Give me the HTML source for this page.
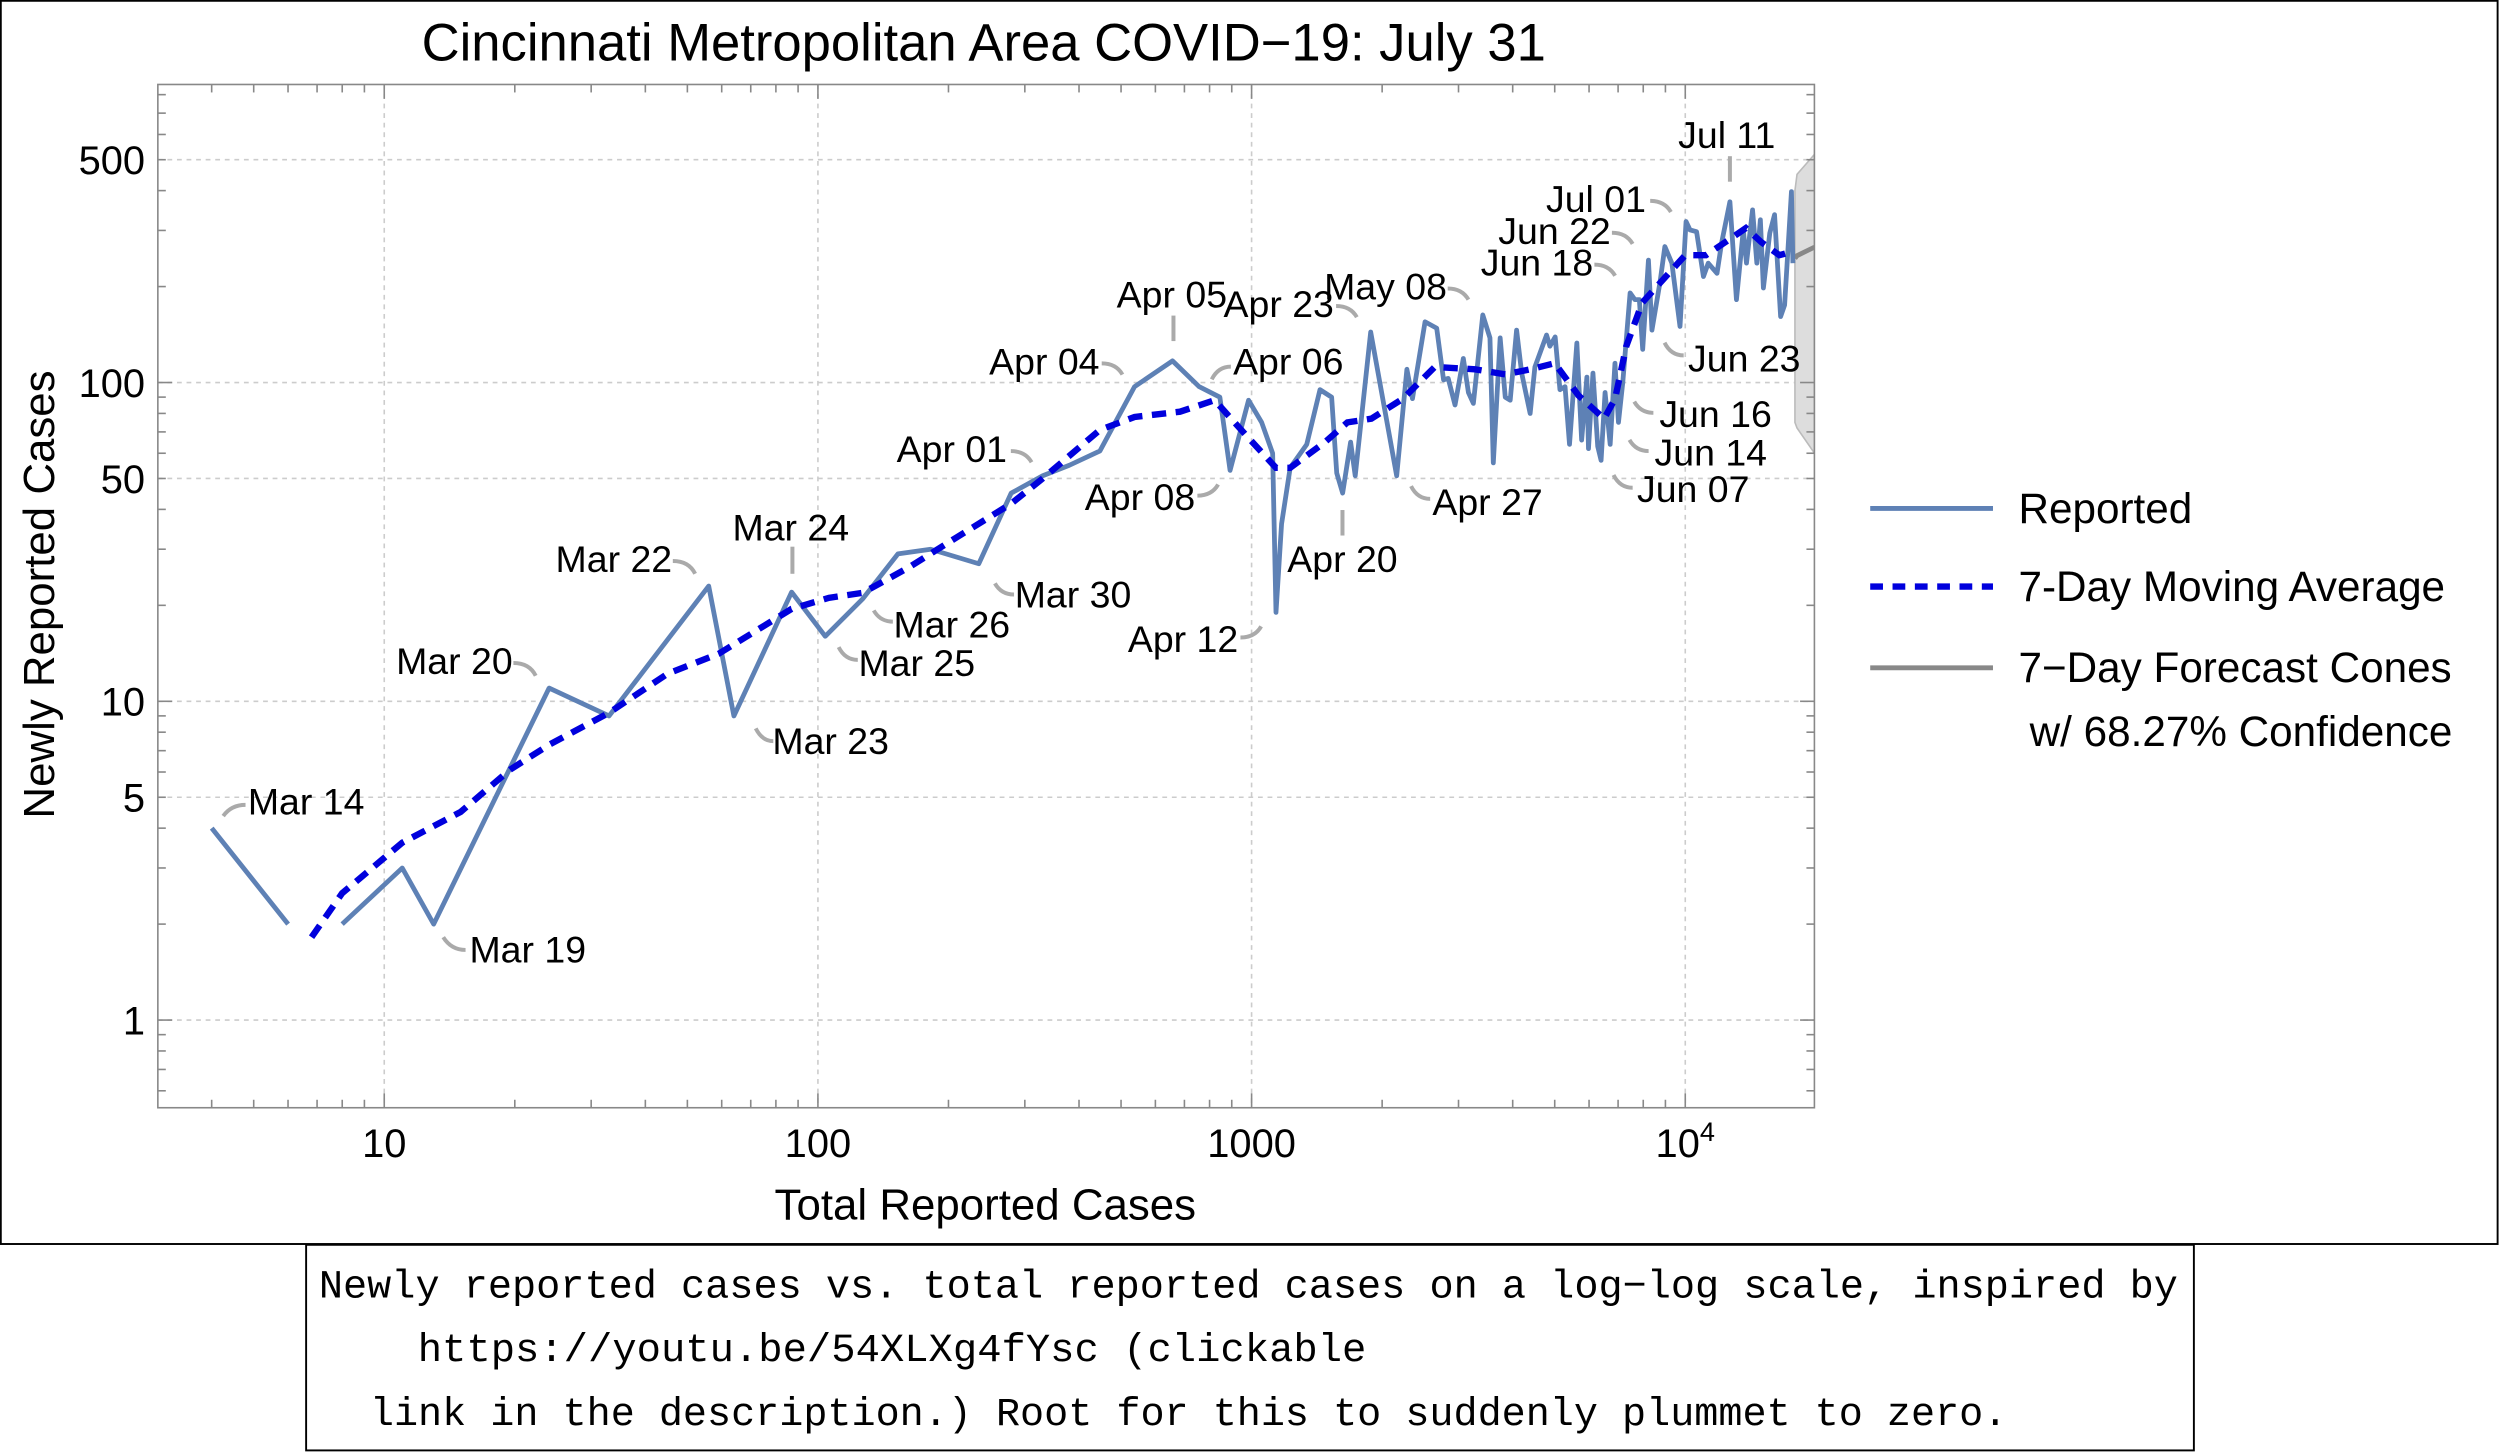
<!DOCTYPE html>
<html><head><meta charset="utf-8"><style>
html,body{margin:0;padding:0;background:#fff}
svg{display:block}
text{font-family:"Liberation Sans",sans-serif;fill:#000}
.lbl{font-size:23.5px}
.mono{font-family:"Liberation Mono",monospace;font-size:25px}
</style></head><body>
<svg id="chart" width="2500" height="1452" viewBox="0 0 1568 911" preserveAspectRatio="none" xmlns="http://www.w3.org/2000/svg">
<rect x="0.5" y="0.5" width="1566" height="780" fill="#fff" stroke="#000" stroke-width="1.2"/>
<text x="617" y="38" font-size="33" text-anchor="middle">Cincinnati Metropolitan Area COVID−19: July 31</text>
<defs><clipPath id="pc"><rect x="99" y="53" width="1039" height="642"/></clipPath></defs>
<g id="grid"></g>
<g id="cone" clip-path="url(#pc)"></g>
<g id="leaders" fill="none" stroke="#aaa" stroke-width="2.5"></g>
<g id="series" clip-path="url(#pc)"></g>
<rect x="99" y="53" width="1039" height="642" fill="none" stroke="#888" stroke-width="1"/>
<g id="ticks"></g>
<g id="labels"></g>
<text x="618" y="765" font-size="27.5" text-anchor="middle">Total Reported Cases</text>
<text x="0" y="0" font-size="27.5" text-anchor="middle" transform="translate(34,373) rotate(-90)">Newly Reported Cases</text>
<g>
<g><line x1="1173" y1="319" x2="1250" y2="319" stroke="#5E81B5" stroke-width="3"/><text x="1266" y="328" font-size="26.5">Reported</text></g>
<g><line x1="1173" y1="368" x2="1250" y2="368" stroke="#0000DD" stroke-width="4" stroke-dasharray="8,6"/><text x="1266" y="377" font-size="26.5">7-Day Moving Average</text></g>
<g><line x1="1173" y1="419" x2="1250" y2="419" stroke="#888" stroke-width="3"/><text x="1266" y="428" font-size="26.5">7−Day Forecast Cones</text><text x="1273" y="468" font-size="26.5">w/ 68.27% Confidence</text></g>
</g>
<rect x="192" y="781" width="1184" height="129" fill="#fff" stroke="#000" stroke-width="1.2"/>
<g>
<text class="mono" x="200" y="814" textLength="1166" lengthAdjust="spacingAndGlyphs">Newly reported cases vs. total reported cases on a log−log scale, inspired by</text>
<text class="mono" x="262" y="854" textLength="595" lengthAdjust="spacingAndGlyphs">https://youtu.be/54XLXg4fYsc (clickable</text>
<text class="mono" x="232" y="894" textLength="1027" lengthAdjust="spacingAndGlyphs">link in the description.) Root for this to suddenly plummet to zero.</text>
</g>
</svg>
<script>
const totals=[4,6,null,8,11,13,24,33,56,64,87,104,127,153,182,235,279,330,380,447,537,657,757,845,892,984,1055,1118,1138,1173,1227,1340,1438,1530,1572,1622,1692,1733,1882,2161,2280,2349,2512,2673,2770,2841,2945,3078,3162,3246,3412,3546,3609,3741,3845,3946,4085,4194,4389,4501,4788,4875,5012,5140,5284,5408,5623,5768,5929,5984,6124,6281,6397,6531,6714,6887,7015,7178,7464,7656,7834,7980,8222,8375,8750,8974,9311,9727,10046,10257,10617,11015,11298,11830,12134,12677,13122,13614,13836,14289,14622,14894,15136,15668,16069,16596,16943,17579,17701];
const newCases=[4,2,null,2,3,2,11,9,23,9,22,16,21,29,30,27,45,51,55,61,97,117,97,90,53,88,75,60,19,36,54,64,95,90,52,45,65,51,144,51,110,89,155,148,102,103,85,119,93,86,163,138,56,138,90,88,146,107,80,112,141,130,139,95,97,64,133,66,104,62,107,63,57,93,64,115,75,100,191,182,182,127,242,146,207,267,237,150,320,301,297,215,237,220,274,369,182,301,237,348,237,324,198,294,336,161,175,397,237];
const maTotals=[6.8,8,11,15,19.5,24,33,45,59,87,106,127,162,209,279,330,447,537,684,822,984,1138,1227,1476,1663,1888,2235,2646,3273,3845,4395,5000,5675,6500,6890,7310,7960,9270,10000,11160,12680,13800,15000,16480,17620];
const maValues=[1.82,2.5,3.6,4.5,6.1,7.3,9.2,12.2,14.1,19.5,21.1,21.9,26.3,32.7,41.7,50,71,78,81,88,67,54,54,65,75,77,89,112,110,106,110,115,91,77,89,130,178,224,251,251,282,305,275,251,257];
const coneTotals=[17900,18100,19860];
const coneCenter=[245,250,266];
const coneUpper=[400,450,520];
const coneLower=[75,72,60];
const xTicks=[10,100,1000,10000];
const xTickLabels=["10","100","1000","10"];
const yTicks=[1,5,10,50,100,500];
const yTickLabels=["1","5","10","50","100","500"];
const X=v=>241+272*(Math.log10(v)-1);
const Y=v=>640-200*Math.log10(v);
const NS="http://www.w3.org/2000/svg";
function mk(tag,attrs,parent){const e=document.createElementNS(NS,tag);for(const k in attrs)e.setAttribute(k,attrs[k]);parent.appendChild(e);return e;}
const grid=document.getElementById('grid'),ticks=document.getElementById('ticks');
xTicks.forEach((t,i)=>{
  const g=mk('line',{x1:X(t),x2:X(t),y1:53,y2:695,stroke:'#ccc','stroke-width':1,'stroke-dasharray':'3,3'},grid);
  
  
  const tx=mk('text',{x:X(t),y:726,'font-size':25,'text-anchor':'middle'},ticks);
  tx.textContent=xTickLabels[i];
  if(t===10000){const s=mk('tspan',{dy:-10,'font-size':17},tx);s.textContent='4';}
  
  
});
yTicks.forEach((t,i)=>{
  const g=mk('line',{x1:99,x2:1138,y1:Y(t),y2:Y(t),stroke:'#ccc','stroke-width':1,'stroke-dasharray':'3,3'},grid);
  
  
  const tx=mk('text',{x:91,y:Y(t)+9,'font-size':25,'text-anchor':'end'},ticks);
  tx.textContent=yTickLabels[i];
  
  
});
for(let d=0;d<=4;d++){for(let m=1;m<10;m++){const v=m*Math.pow(10,d);const x=X(v);if(x<99||x>1138)continue;const L=m===1?9:5;
 mk('line',{x1:x,x2:x,y1:695,y2:695-L,stroke:'#888'},ticks);mk('line',{x1:x,x2:x,y1:53,y2:53+L,stroke:'#888'},ticks);}}
for(let d=-1;d<=3;d++){for(let m=1;m<10;m++){const v=m*Math.pow(10,d);const y=Y(v);if(y<53||y>695)continue;const L=m===1?9:5;
 mk('line',{x1:99,x2:99+L,y1:y,y2:y,stroke:'#888'},ticks);mk('line',{x1:1138,x2:1138-L,y1:y,y2:y,stroke:'#888'},ticks);}}
const cone=document.getElementById('cone');
let cp='M'+coneTotals.map((t,i)=>X(t)+','+Y(coneUpper[i])).join(' L')+' L'+coneTotals.slice().reverse().map((t,j)=>X(t)+','+Y(coneLower[coneTotals.length-1-j])).join(' L')+'Z';
const cpoly=mk('path',{d:cp,fill:'#ddd',stroke:'#bbb'},cone);


const cl=mk('path',{d:'M'+coneTotals.map((t,i)=>X(t)+','+Y(coneCenter[i])).join(' L'),fill:'none',stroke:'#888','stroke-width':3},cone);


const series=document.getElementById('series');
let d='',pen=false;
totals.forEach((t,i)=>{if(t===null||newCases[i]===null){pen=false;return;}d+=(pen?'L':'M')+X(t).toFixed(1)+','+Y(newCases[i]).toFixed(1)+' ';pen=true;});
const rp=mk('path',{d:d,fill:'none',stroke:'#5E81B5','stroke-width':3,'stroke-linejoin':'round'},series);


const md='M'+maTotals.map((t,i)=>X(t).toFixed(1)+','+Y(maValues[i]).toFixed(1)).join(' L');
const mp=mk('path',{d:md,fill:'none',stroke:'#0000DD','stroke-width':4,'stroke-dasharray':'9,6'},series);


const ann=[["Mar 14",192,503,"M140,512 Q145,505 154,505"],["Mar 19",331,596,"M278,588 Q283,596 292,596"],["Mar 20",285,415,"M322,416 Q332,416 336,424"],["Mar 22",385,351,"M422,352 Q432,352 436,360"],["Mar 23",521,465,"M474,457 Q478,465 485,465"],["Mar 24",496,331,"M497,343 L497,360"],["Mar 25",575,416,"M526,406 Q530,414 538,414"],["Mar 26",597,392,"M548,383 Q552,390 560,390"],["Mar 30",673,373,"M624,366 Q628,373 636,373"],["Apr 01",597,282,"M634,283 Q643,283 647,290"],["Apr 04",655,227,"M691,228 Q700,228 704,235"],["Apr 05",735,185,"M736,198 L736,214"],["Apr 23",802,191,"M838,192 Q847,192 851,199"],["May 08",869,180,"M908,181 Q917,181 921,188"],["Apr 06",808,227,"M760,238 Q764,230 772,230"],["Apr 08",715,312,"M751,311 Q760,311 764,304"],["Apr 12",742,401,"M778,400 Q787,400 791,393"],["Apr 20",842,351,"M842,320 L842,336"],["Apr 27",933,315,"M885,305 Q889,313 897,313"],["Jun 18",964,165,"M1000,166 Q1009,166 1013,173"],["Jun 22",975,145,"M1011,146 Q1020,146 1024,153"],["Jul 01",1001,125,"M1035,126 Q1044,126 1048,133"],["Jul 11",1083,85,"M1085,98 L1085,114"],["Jun 23",1094,225,"M1044,215 Q1048,223 1056,223"],["Jun 16",1076,260,"M1025,252 Q1029,259 1037,259"],["Jun 14",1073,284,"M1022,276 Q1026,283 1034,283"],["Jun 07",1062,307,"M1012,298 Q1016,306 1024,306"]];
const lab=document.getElementById('labels'),lead=document.getElementById('leaders');
ann.forEach(a=>{
  const p=mk('path',{d:a[3]},lead);
  
  
  const t=mk('text',{x:a[1],y:a[2]+8,class:'lbl','text-anchor':'middle'},lab);
  t.textContent=a[0];
  
  
});
</script>
</body></html>
